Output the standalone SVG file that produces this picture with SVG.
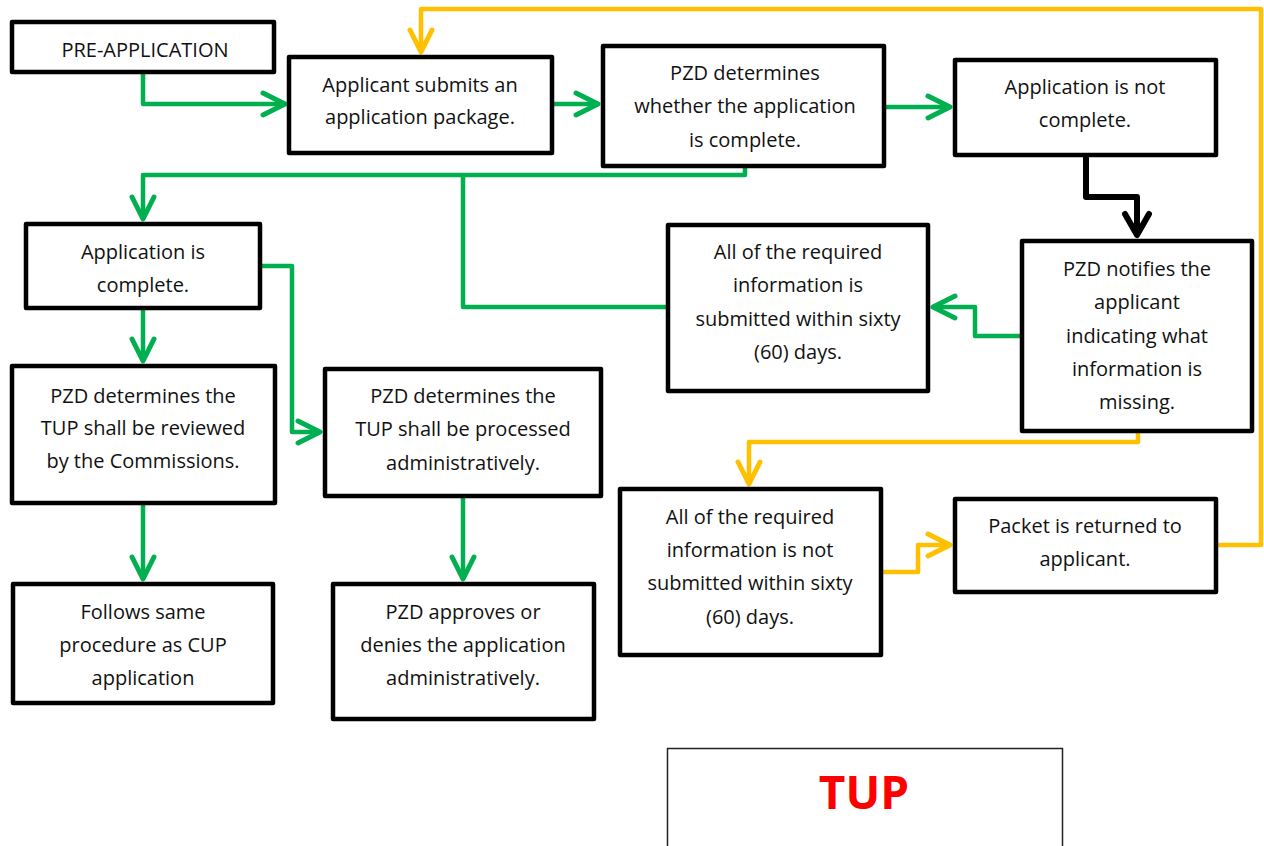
<svg xmlns="http://www.w3.org/2000/svg" width="1264" height="846" viewBox="0 0 1264 846">
  <style>
    .box { fill: #ffffff; stroke: #000000; stroke-width: 4.5; stroke-linejoin: round; }
    .lbl { font-family: "Open Sans", "Noto Sans", "Liberation Sans", sans-serif; font-size: 20px; fill: #111111; text-anchor: middle; }
    .g { fill: none; stroke: #00B050; stroke-width: 4.5; stroke-linejoin: round; }
    .y { fill: none; stroke: #FFC000; stroke-width: 4.5; stroke-linejoin: round; }
    .k { fill: none; stroke: #000000; stroke-width: 6; stroke-linejoin: round; }
    .tup { font-family: "Open Sans", "Liberation Sans", sans-serif; font-weight: 700; font-size: 46px; fill: #FF0000; text-anchor: middle; }
  </style>
  <defs>
    <marker id="arrow-green" markerUnits="userSpaceOnUse" markerWidth="40" markerHeight="40" refX="0" refY="0" orient="auto" overflow="visible">
      <path d="M-22,-11 L0,0 L-22,11" fill="none" stroke="#00B050" stroke-width="5" stroke-linecap="round" stroke-linejoin="round"/>
    </marker>
    <marker id="arrow-yellow" markerUnits="userSpaceOnUse" markerWidth="40" markerHeight="40" refX="0" refY="0" orient="auto" overflow="visible">
      <path d="M-22,-11 L0,0 L-22,11" fill="none" stroke="#FFC000" stroke-width="5" stroke-linecap="round" stroke-linejoin="round"/>
    </marker>
    <marker id="arrow-black" markerUnits="userSpaceOnUse" markerWidth="40" markerHeight="40" refX="0" refY="0" orient="auto" overflow="visible">
      <path d="M-21,-12 L0,0 L-21,12" fill="none" stroke="#000000" stroke-width="6" stroke-linecap="round" stroke-linejoin="round"/>
    </marker>
  </defs>

  <rect width="1264" height="846" fill="#ffffff"/>

  <!-- connectors -->
  <g id="connectors">
    <path class="g" d="M143,74 V104 H285" marker-end="url(#arrow-green)"/>
    <path class="g" d="M554,104 H598" marker-end="url(#arrow-green)"/>
    <path class="g" d="M886,107 H950" marker-end="url(#arrow-green)"/>
    <path class="g" d="M745,168 V175 H143 V219" marker-end="url(#arrow-green)"/>
    <path class="g" d="M668,307 H463 V175"/>
    <path class="g" d="M1020,336 H975 V307 H933" marker-end="url(#arrow-green)"/>
    <path class="g" d="M143,310 V361" marker-end="url(#arrow-green)"/>
    <path class="g" d="M261,266 H292 V432 H320" marker-end="url(#arrow-green)"/>
    <path class="g" d="M143,505 V579" marker-end="url(#arrow-green)"/>
    <path class="g" d="M463,498 V579" marker-end="url(#arrow-green)"/>
    <path class="k" d="M1086,157 V197 H1137 V235" marker-end="url(#arrow-black)"/>
    <path class="y" d="M1138,433 V442 H749 V484" marker-end="url(#arrow-yellow)"/>
    <path class="y" d="M882,572 H918 V545 H950" marker-end="url(#arrow-yellow)"/>
    <path class="y" d="M1218,545 H1261 V9 H421 V52" marker-end="url(#arrow-yellow)"/>
  </g>

  <g id="pre-application">
    <rect class="box" x="12" y="22" width="262" height="50"/>
    <text class="lbl" x="145" y="57">PRE-APPLICATION</text>
  </g>

  <g id="submit-package">
    <rect class="box" x="289" y="57" width="263" height="96"/>
    <text class="lbl" x="420" y="92">Applicant submits an</text>
    <text class="lbl" x="420" y="124">application package.</text>
  </g>

  <g id="check-complete">
    <rect class="box" x="603" y="46" width="281" height="120"/>
    <text class="lbl" x="745" y="80">PZD determines</text>
    <text class="lbl" x="745" y="113">whether the application</text>
    <text class="lbl" x="745" y="147">is complete.</text>
  </g>

  <g id="not-complete">
    <rect class="box" x="955" y="60" width="261" height="95"/>
    <text class="lbl" x="1085" y="94">Application is not</text>
    <text class="lbl" x="1085" y="127">complete.</text>
  </g>

  <g id="notify-applicant">
    <rect class="box" x="1022" y="241" width="230" height="190"/>
    <text class="lbl" x="1137" y="276">PZD notifies the</text>
    <text class="lbl" x="1137" y="309">applicant</text>
    <text class="lbl" x="1137" y="343">indicating what</text>
    <text class="lbl" x="1137" y="376">information is</text>
    <text class="lbl" x="1137" y="409">missing.</text>
  </g>

  <g id="info-submitted">
    <rect class="box" x="668" y="225" width="260" height="166"/>
    <text class="lbl" x="798" y="259">All of the required</text>
    <text class="lbl" x="798" y="292">information is</text>
    <text class="lbl" x="798" y="326">submitted within sixty</text>
    <text class="lbl" x="798" y="359">(60) days.</text>
  </g>

  <g id="app-complete">
    <rect class="box" x="26" y="224" width="234" height="84"/>
    <text class="lbl" x="143" y="259">Application is</text>
    <text class="lbl" x="143" y="292">complete.</text>
  </g>

  <g id="commission-review">
    <rect class="box" x="12" y="366" width="263" height="137"/>
    <text class="lbl" x="143" y="403">PZD determines the</text>
    <text class="lbl" x="143" y="435">TUP shall be reviewed</text>
    <text class="lbl" x="143" y="468">by the Commissions.</text>
  </g>

  <g id="admin-process">
    <rect class="box" x="325" y="369" width="276" height="127"/>
    <text class="lbl" x="463" y="403">PZD determines the</text>
    <text class="lbl" x="463" y="436">TUP shall be processed</text>
    <text class="lbl" x="463" y="470">administratively.</text>
  </g>

  <g id="cup-procedure">
    <rect class="box" x="13" y="584" width="260" height="119"/>
    <text class="lbl" x="143" y="619">Follows same</text>
    <text class="lbl" x="143" y="652">procedure as CUP</text>
    <text class="lbl" x="143" y="685">application</text>
  </g>

  <g id="admin-decision">
    <rect class="box" x="333" y="584" width="261" height="135"/>
    <text class="lbl" x="463" y="619">PZD approves or</text>
    <text class="lbl" x="463" y="652">denies the application</text>
    <text class="lbl" x="463" y="685">administratively.</text>
  </g>

  <g id="info-not-submitted">
    <rect class="box" x="620" y="489" width="261" height="166"/>
    <text class="lbl" x="750" y="524">All of the required</text>
    <text class="lbl" x="750" y="557">information is not</text>
    <text class="lbl" x="750" y="590">submitted within sixty</text>
    <text class="lbl" x="750" y="624">(60) days.</text>
  </g>

  <g id="packet-returned">
    <rect class="box" x="955" y="499" width="261" height="93"/>
    <text class="lbl" x="1085" y="533">Packet is returned to</text>
    <text class="lbl" x="1085" y="566">applicant.</text>
  </g>

  <g id="title">
    <rect x="667.5" y="748.5" width="395" height="120" fill="#ffffff" stroke="#222222" stroke-width="1.5"/>
    <text class="tup" x="864" y="809">TUP</text>
  </g>
</svg>
